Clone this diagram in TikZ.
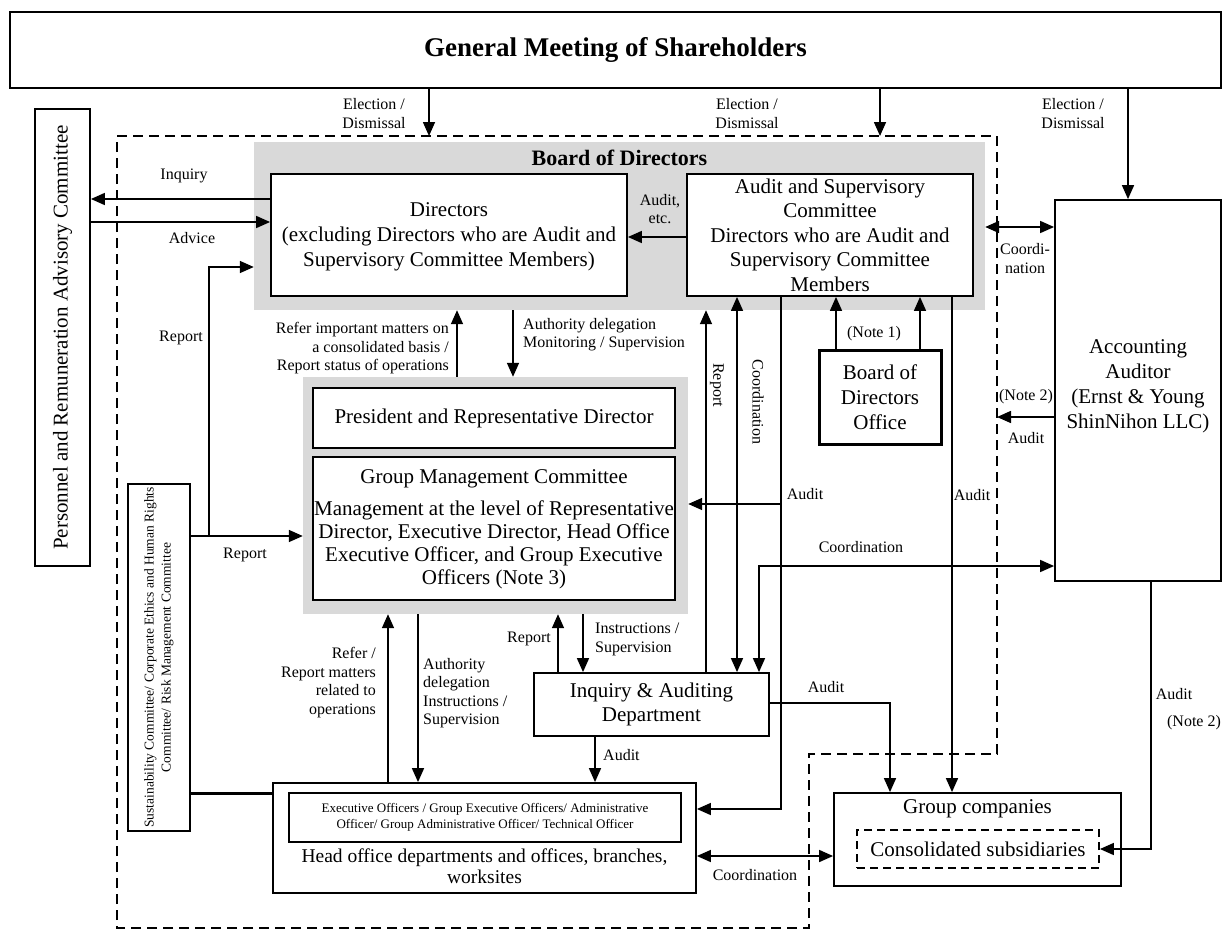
\documentclass[tikz,border=0pt]{standalone}
\usepackage{fontspec}
\setmainfont{Liberation Serif}
\usetikzlibrary{arrows.meta}
\newcommand{\myfs}[2]{\fontsize{#1}{#2}\selectfont}
\definecolor{boardgray}{HTML}{D9D9D9}
\begin{document}
\begin{tikzpicture}[x=1pt,y=-1pt,
  box/.style={draw, line width=1.8pt, fill=white, inner sep=0pt, align=center, font=\myfs{21}{24.5}},
  graybox/.style={fill=boardgray, draw=none, inner sep=0pt},
  arr/.style={line width=1.6pt, -{Triangle[length=14pt,width=12pt]}},
  darr/.style={line width=1.6pt, {Triangle[length=14pt,width=12pt]}-{Triangle[length=14pt,width=12pt]}},
  plain/.style={line width=1.6pt},
  lbl/.style={inner sep=0pt, align=center, font=\myfs{16}{18.5}},
  boundary/.style={line width=2pt, dash pattern=on 10pt off 6pt}
]
\useasboundingbox (0,0) rectangle (1223,929);

% dashed company boundary
\draw[boundary] (117,136) -- (997,136) -- (997,754) -- (809,754) -- (809,928) -- (117,928) -- cycle;

% general meeting
\node[box, minimum width=1211pt, minimum height=76pt, font=\myfs{27}{30}\bfseries] (gm) at (615.5,50) {General Meeting of Shareholders};

% gray groups
\node[graybox, minimum width=731pt, minimum height=168pt] (board) at (619.5,226) {};
\node[inner sep=0pt, font=\myfs{22}{24}\bfseries] (boardt) at (619.5,158) {Board of Directors};
\node[graybox, minimum width=385pt, minimum height=237pt] (pgray) at (495.5,495.5) {};

% boxes
\node[box, minimum width=457pt, minimum height=55pt, rotate=90] (pers) at (62.5,337.5) {Personnel and Remuneration Advisory Committee};
\node[box, minimum width=356pt, minimum height=122pt] (dirs) at (449,235) {};
\node[inner sep=0pt, align=center, font=\myfs{21}{25}] (dirst) at (449,237) {Directors\\(excluding Directors who are Audit and\\Supervisory Committee Members)};
\node[box, minimum width=286pt, minimum height=122pt] (asc) at (830,235) {Audit and Supervisory\\Committee\\Directors who are Audit and\\Supervisory Committee\\Members};
\node[box, line width=3pt, minimum width=122pt, minimum height=94pt, font=\myfs{21}{25}] (bdo) at (880,397) {Board of\\Directors\\Office};
\node[box, minimum width=166pt, minimum height=381pt] (aa) at (1138,390.5) {};
\node[inner sep=0pt, align=center, font=\myfs{21}{25}] (aat) at (1138,386) {Accounting\\Auditor\\(Ernst \& Young\\ShinNihon LLC)};
\node[box, minimum width=362pt, minimum height=60pt] (pres) at (494,418) {President and Representative Director};
\node[box, minimum width=362pt, minimum height=143pt, font=\myfs{21}{23}] (gmc) at (494,528.5) {};
\node[inner sep=0pt, align=center, font=\myfs{21}{23}] (gmct) at (494,529.5) {Group Management Committee\\[9pt]Management at the level of Representative\\Director, Executive Director, Head Office\\Executive Officer, and Group Executive\\Officers (Note 3)};
\node[box, line width=1.5pt, minimum width=347pt, minimum height=62pt, rotate=90, font=\myfs{13.5}{17}] (sus) at (159,657.5) {Sustainability Committee/ Corporate Ethics and Human Rights\\Committee/ Risk Management Committee};
\node[box, minimum width=235pt, minimum height=63pt, font=\myfs{21}{24}] (iad) at (651.5,704.5) {Inquiry \& Auditing\\Department};
\node[box, minimum width=423pt, minimum height=110pt] (ho) at (484.5,838) {};
\node[box, minimum width=392pt, minimum height=49pt, font=\myfs{13}{16}] (hoi) at (485,817.5) {Executive Officers / Group Executive Officers/ Administrative\\Officer/ Group Administrative Officer/ Technical Officer};
\node[inner sep=0pt, align=center, font=\myfs{19.5}{21}] (hot) at (484.5,866.5) {Head office departments and offices, branches,\\worksites};
\node[box, minimum width=287pt, minimum height=93pt] (gc) at (977.5,839.5) {};
\node[inner sep=0pt, font=\myfs{21}{24}] (gct) at (977.5,809) {Group companies};
\node[box, dash pattern=on 8pt off 5pt, minimum width=242pt, minimum height=38pt] (cs) at (978,849) {Consolidated subsidiaries};

% election arrows
\draw[arr] (gm.south -| 429,0) -- (429,136);
\node[lbl] at (374,113.5) {Election /\\Dismissal};
\draw[arr] (gm.south -| 880,0) -- (880,136);
\node[lbl] at (747,113.5) {Election /\\Dismissal};
\draw[arr] (gm.south -| 1128,0) -- (aa.north -| 1128,0);
\node[lbl] at (1073,113.5) {Election /\\Dismissal};

% personnel committee
\draw[arr] (dirs.west |- 0,199) -- (pers.south |- 0,199);
\node[lbl] at (184,176) {Inquiry};
\draw[arr] (pers.south |- 0,222) -- (dirs.west |- 0,222);
\node[lbl] at (192,238) {Advice};

% sustainability reports
\draw[arr] (sus.south |- 0,536) -- (pgray.west |- 0,536);
\node[lbl] at (245,555) {Report};
\draw[arr] (209,536) -- (209,267) -- (board.west |- 0,267);
\node[lbl] at (181,338) {Report};
\draw[line width=3pt] (sus.south |- 0,793) -- (ho.west |- 0,793);

% board internals
\draw[arr] (asc.west |- 0,237) -- (dirs.east |- 0,237);
\node[lbl] at (660,209) {Audit,\\etc.};
\draw[darr] (board.east |- 0,227) -- (aa.west |- 0,227);
\node[lbl] at (1025,258.5) {Coordi-\\nation};

% board <-> president group
\draw[arr] (pgray.north -| 457,0) -- (board.south -| 457,0);
\node[lbl, anchor=east, align=right] at (449,348.5) {Refer important matters on\\a consolidated basis /\\Report status of operations};
\draw[arr] (board.south -| 513,0) -- (pgray.north -| 513,0);
\node[lbl, anchor=west, align=left] at (523,334.5) {Authority delegation\\Monitoring / Supervision};

% verticals from audit committee
\draw[arr] (iad.north -| 706,0) -- (board.south -| 706,0);
\node[lbl, rotate=-90] at (717,385) {Report};
\draw[darr] (asc.south -| 737,0) -- (iad.north -| 737,0);
\node[lbl, rotate=-90] at (758,402) {Coordination};
\draw[arr] (asc.south -| 781,0) -- (781,809) -- (ho.east |- 0,809);
\draw[arr] (781,504) -- (pgray.east |- 0,504);
\node[lbl] at (805,494) {Audit};
\draw[darr] (iad.north -| 759,0) -- (759,566) -- (aa.west |- 0,566);
\node[lbl] at (861,547) {Coordination};
\draw[arr] (asc.south -| 952,0) -- (gc.north -| 952,0);
\node[lbl] at (972,495) {Audit};

% board of directors office
\draw[arr] (bdo.north -| 836,0) -- (asc.south -| 836,0);
\draw[arr] (bdo.north -| 920,0) -- (asc.south -| 920,0);
\node[lbl] at (874,334) {(Note 1)};

% accounting auditor audits
\draw[arr] (aa.west |- 0,417) -- (997,417);
\node[lbl] at (1026,397) {(Note 2)};
\node[lbl] at (1026,438) {Audit};
\draw[arr] (aa.south -| 1151,0) -- (1151,849) -- (cs.east |- 0,849);
\node[lbl] at (1174,694) {Audit};
\node[lbl] at (1194,723) {(Note 2)};

% president group <-> head office
\draw[arr] (ho.north -| 388,0) -- (pgray.south -| 388,0);
\node[lbl, anchor=east, align=right] at (376,682.5) {Refer /\\Report matters\\related to\\operations};
\draw[arr] (pgray.south -| 418,0) -- (ho.north -| 418,0);
\node[lbl, anchor=west, align=left] at (423,693) {Authority\\delegation\\Instructions /\\Supervision};

% inquiry & auditing department
\draw[arr] (iad.north -| 558,0) -- (pgray.south -| 558,0);
\node[lbl] at (529,639) {Report};
\draw[arr] (pgray.south -| 583,0) -- (iad.north -| 583,0);
\node[lbl, anchor=west, align=left] at (595,639.5) {Instructions /\\Supervision};
\draw[arr] (iad.south -| 595,0) -- (ho.north -| 595,0);
\node[lbl, anchor=west] at (603,755) {Audit};
\draw[arr] (iad.east |- 0,703) -- (890,703) -- (gc.north -| 890,0);
\node[lbl] at (826,687) {Audit};

% head office <-> group companies
\draw[darr] (ho.east |- 0,856) -- (gc.west |- 0,856);
\node[lbl] at (755,875) {Coordination};
\end{tikzpicture}
\end{document}
